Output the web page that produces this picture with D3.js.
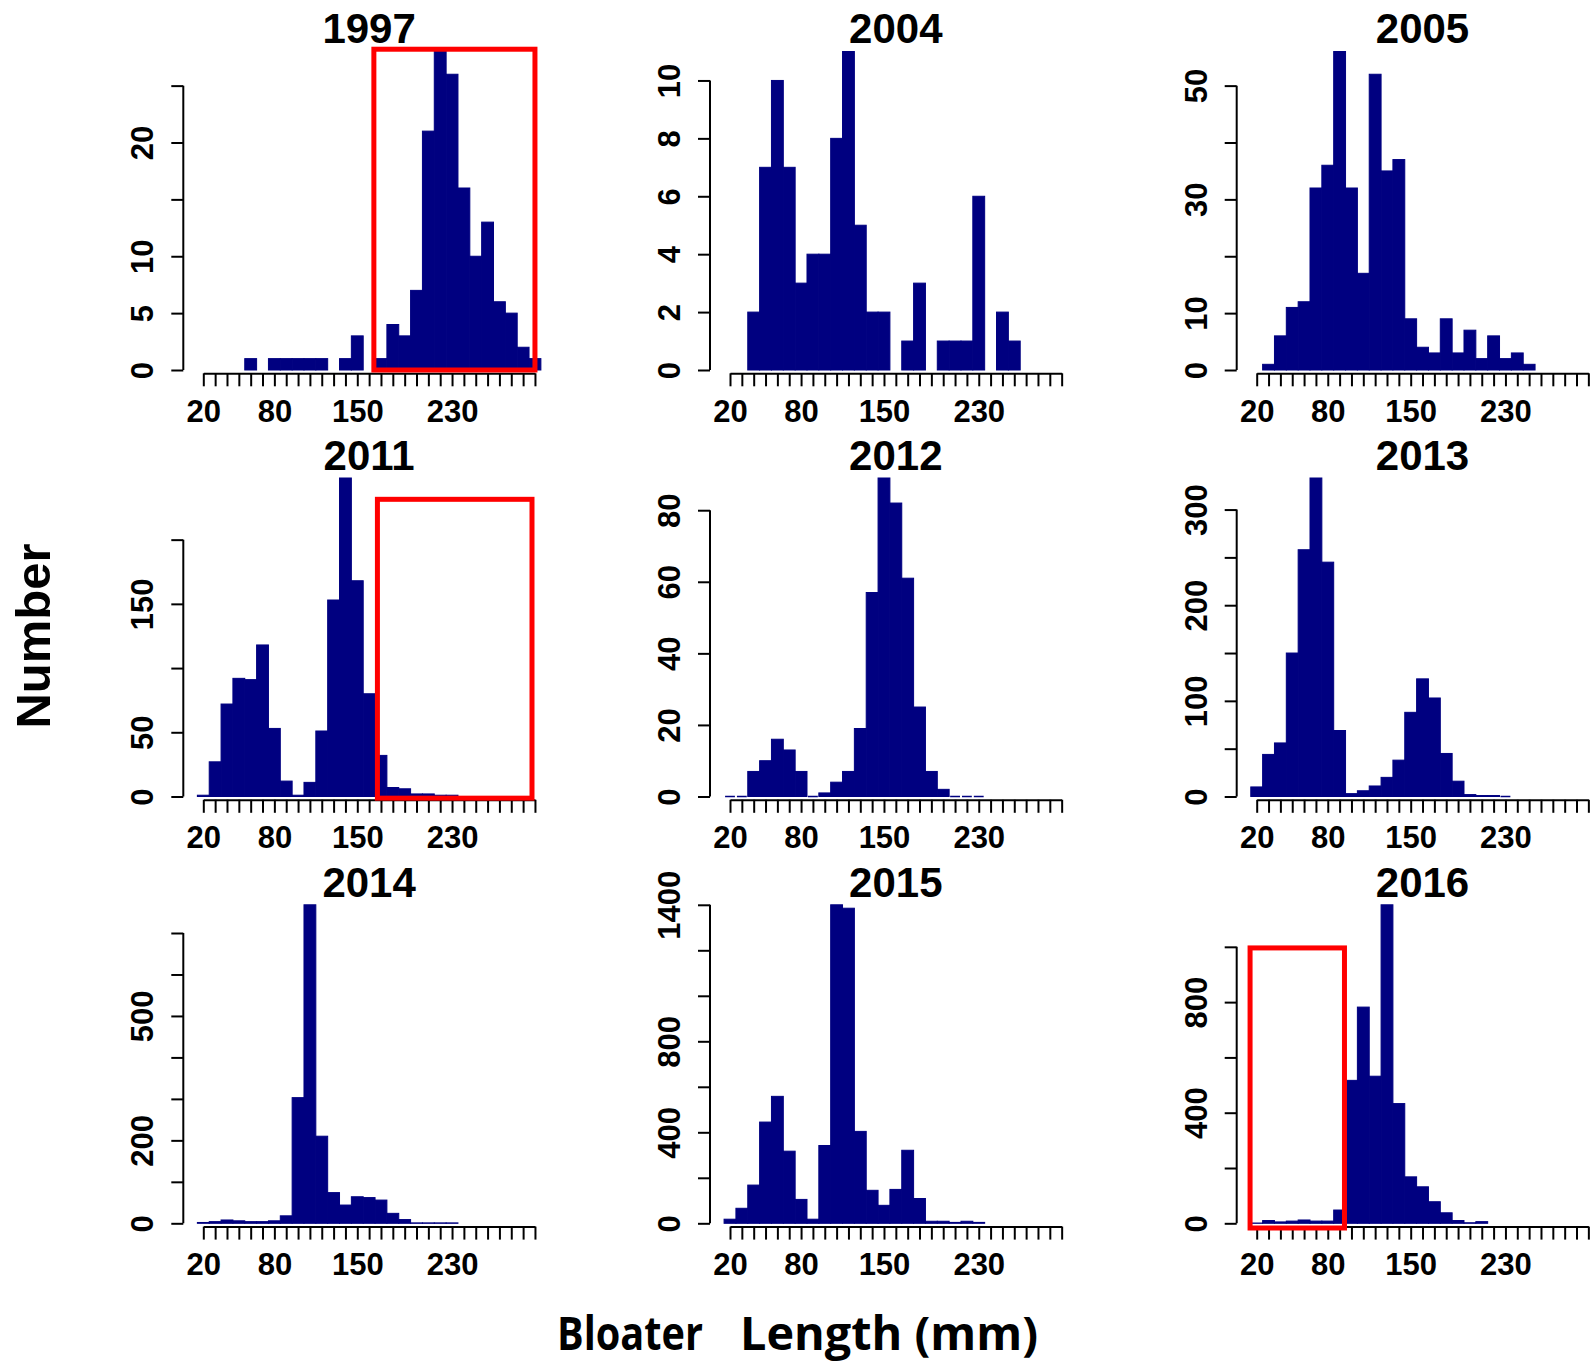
<!DOCTYPE html>
<html>
<head>
<meta charset="utf-8">
<script src="https://cdn.jsdelivr.net/npm/d3@7"></script>
<style>
  html, body { margin: 0; padding: 0; background: #fff; }
  svg { display: block; }
</style>
</head>
<body>
<svg id="chart" width="1594" height="1365"></svg>
<script>
// ---------------- DATA ----------------
// Histogram bins: centres 20,30,...,300 mm (width 10). null = bin not drawn.
const binCentres = d3.range(20, 301, 10);
const years = ["1997", "2004", "2005", "2011", "2012", "2013", "2014", "2015", "2016"];

const counts1997 = [null,null,null,null,1,null,1,1,1,1,1,null,1,3,null,1,4,3,7,21,28,26,16,10,13,6,5,2,1];
const counts2004 = [null,null,2,7,10,7,3,4,4,8,11,5,2,2,null,1,3,null,1,1,1,6,null,2,1,null,null,null,null];
const counts2005 = [null,1,6,11,12,32,36,56,32,17,52,35,37,9,4,3,9,3,7,2,6,2,3,1,null,null,null,null,null];
const counts2011 = [1,27,72,92,91,118,53,12,1,11,51,153,248,168,80,32,7,6,2,2,1,1,null,null,null,null,null,null,null];
const counts2012 = [0,0,7,10,16,13,7,0,1,4,7,19,57,89,82,61,25,7,2,0,0,0,null,null,null,null,null,null,null];
const counts2013 = [10,44,56,150,258,333,245,69,3,6,11,20,38,88,123,103,45,16,2,1,1,0,null,null,null,null,null,null,null];
const counts2014 = [2,4,8,6,4,4,6,18,303,768,210,74,44,64,62,56,24,9,1,1,1,1,null,null,null,null,null,null,null];
const counts2015 = [18,66,168,445,558,317,105,18,342,1400,1385,404,145,79,149,321,109,9,9,4,9,4,null,null,null,null,null,null,null];
const counts2016 = [1,10,5,8,12,8,8,48,517,782,532,1152,433,168,132,78,38,10,2,6,null,null,null,null,null,null,null,null,null];

// Y-axis ticks (step, last tick) and which tick labels are printed
const yTickStep = [5, 2, 10, 50, 20, 50, 100, 200, 200];
const yTickMax  = [25, 10, 50, 200, 80, 300, 700, 1400, 1000];
const yTickLabels = [[0,5,10,20],[0,2,4,6,8,10],[0,10,30,50],[0,50,150],[0,20,40,60,80],[0,100,200,300],[0,200,500],[0,400,800,1400],[0,400,800]];

// X-axis ticks and labels
const xTicks = d3.range(20, 301, 10);
const xTickLabels = [20, 80, 150, 230];

// Highlight boxes (data units of their panel)
const boxPanel = [0, 3, 8];
const boxX0 = [164, 167, 14.4];
const boxX1 = [300, 297.5, 94.1];
const boxY0 = [0, -1.3, -17];
const boxY1 = [28.2, 231.4, 996];

const allCounts = [counts1997, counts2004, counts2005, counts2011, counts2012, counts2013, counts2014, counts2015, counts2016];

// ---------------- LAYOUT ----------------
const colX20 = [203.3, 730, 1256.7];
const pxPerUnit = 1.1845;
const rowZero = [370, 796.5, 1223.3];
const plotH = 318.5;
const barColor = "#000080";
const tickFont = "'Liberation Sans', Arial, sans-serif";

const svg = d3.select("#chart");

years.forEach((yr, i) => {
  const col = i % 3, row = Math.floor(i / 3);
  const vals = allCounts[i];
  const x0 = colX20[col];
  const zero = rowZero[row];
  const x = d3.scaleLinear().domain([20, 300]).range([x0, x0 + 280 * pxPerUnit]);
  const y = d3.scaleLinear().domain([0, d3.max(vals)]).range([zero, zero - plotH]);
  const g = svg.append("g");

  const data = binCentres.map((c, k) => ({c, v: vals[k]})).filter(d => d.v !== null);

  // bars
  g.selectAll("rect.bar").data(data.filter(d => d.v > 0)).join("rect")
    .attr("class", "bar")
    .attr("x", d => x(d.c - 5))
    .attr("width", d => x(d.c + 5) - x(d.c - 5))
    .attr("y", d => y(d.v))
    .attr("height", d => y(0) - y(d.v))
    .attr("fill", barColor)
    .attr("stroke", barColor)
    .attr("stroke-width", 1);
  // zero-count bins drawn as a line
  g.selectAll("line.zero").data(data.filter(d => d.v === 0)).join("line")
    .attr("class", "zero")
    .attr("x1", d => x(d.c - 5) + 1).attr("x2", d => x(d.c + 5) - 1)
    .attr("y1", y(0)).attr("y2", y(0))
    .attr("stroke", barColor).attr("stroke-width", 1.5);

  // x axis
  const xa = g.append("g")
    .attr("transform", `translate(0,${zero + 3.3})`)
    .call(d3.axisBottom(x).tickValues(xTicks).tickSize(13).tickSizeOuter(0)
      .tickFormat(d => xTickLabels.includes(d) ? d : ""));
  xa.selectAll("path, line").attr("stroke", "#000").attr("stroke-width", 2);
  xa.selectAll("text")
    .attr("dy", null).attr("y", 48.4)
    .attr("fill", "#000")
    .style("font-family", tickFont).style("font-weight", "bold").style("font-size", "31px");

  // y axis
  const yAxisX = x(20) - 20;
  const yt = d3.range(0, yTickMax[i] + yTickStep[i] / 2, yTickStep[i]);
  const ya = g.append("g")
    .attr("transform", `translate(${yAxisX},0)`)
    .call(d3.axisLeft(y).tickValues(yt).tickSize(12)
      .tickFormat(d => yTickLabels[i].includes(d) ? d : ""));
  ya.select("path.domain").remove();
  ya.append("line")
    .attr("x1", 0).attr("x2", 0)
    .attr("y1", y(0)).attr("y2", y(yTickMax[i]))
    .attr("stroke", "#000").attr("stroke-width", 2);
  ya.selectAll("line").attr("stroke", "#000").attr("stroke-width", 2);
  ya.selectAll(".tick text")
    .attr("x", 0).attr("dy", null)
    .attr("transform", "translate(-30,0) rotate(-90)")
    .attr("text-anchor", "middle")
    .attr("fill", "#000")
    .style("font-family", tickFont).style("font-weight", "bold").style("font-size", "31px");

  // title
  g.append("text")
    .attr("x", x(160)).attr("y", zero - 326.7)
    .attr("text-anchor", "middle")
    .style("font-family", tickFont).style("font-weight", "bold").style("font-size", "42px")
    .text(yr);

  // highlight boxes
  boxPanel.forEach((p, b) => {
    if (p !== i) return;
    g.append("rect")
      .attr("x", x(boxX0[b])).attr("y", y(boxY1[b]))
      .attr("width", x(boxX1[b]) - x(boxX0[b]))
      .attr("height", y(boxY0[b]) - y(boxY1[b]))
      .attr("fill", "none").attr("stroke", "#ff0000").attr("stroke-width", 5);
  });
});

// axis titles
svg.append("text")
  .attr("transform", "translate(50,636) rotate(-90)")
  .attr("text-anchor", "middle")
  .style("font-family", tickFont).style("font-weight", "bold").style("font-size", "49px")
  .text("Number");

svg.append("text")
  .attr("x", 557).attr("y", 1350)
  .attr("textLength", 146).attr("lengthAdjust", "spacingAndGlyphs")
  .style("font-family", "'Open Sans', 'Noto Sans', sans-serif").style("font-weight", "bold").style("font-size", "46px")
  .text("Bloater");
svg.append("text")
  .attr("x", 740).attr("y", 1350)
  .attr("textLength", 298).attr("lengthAdjust", "spacingAndGlyphs")
  .style("font-family", "'Open Sans', 'Noto Sans', sans-serif").style("font-weight", "bold").style("font-size", "46px")
  .text("Length (mm)");
</script>
</body>
</html>
